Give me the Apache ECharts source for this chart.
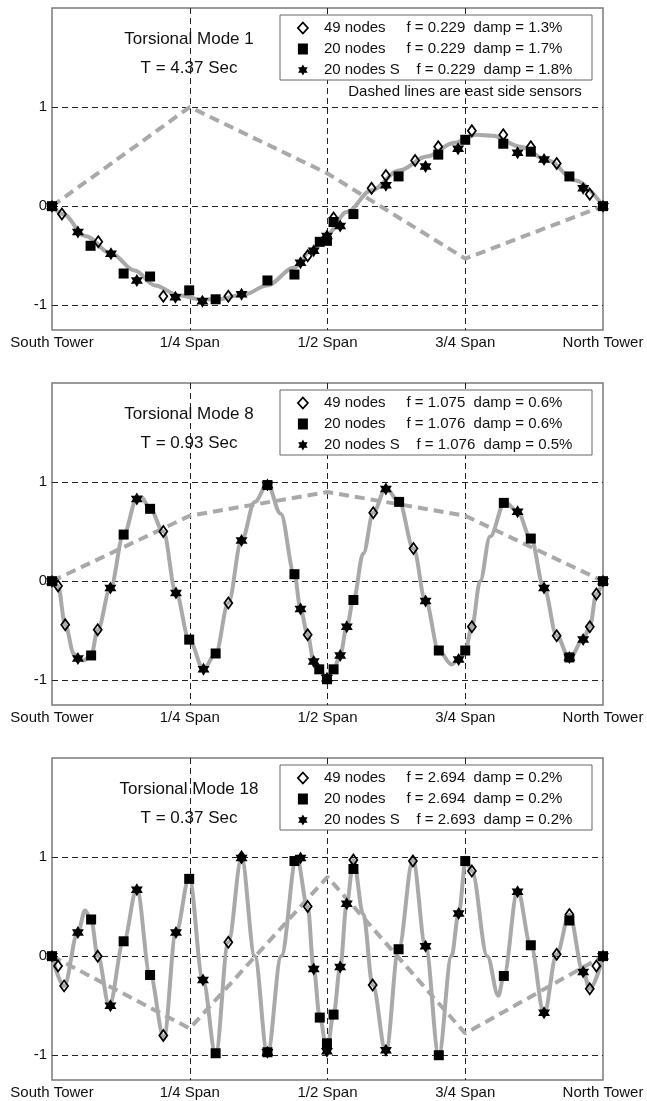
<!DOCTYPE html>
<html><head><meta charset="utf-8">
<script src="https://cdn.jsdelivr.net/npm/echarts@6/dist/echarts.min.js"></script>
<style>html,body{margin:0;padding:0;background:#fff}#c{width:647px;height:1101px}</style>
</head><body><div id="c"></div>
<script>
// ---- tick labels ----
const xTickLabels = ['South Tower', '1/4 Span', '1/2 Span', '3/4 Span', 'North Tower'];
const xTickValues = [0, 0.25, 0.5, 0.75, 1];
const xGridValues = [0.25, 0.5, 0.75];
const yTickValues = [-1, 0, 1];
const eastX = [0, 0.25, 0.5, 0.75, 1];

// ---- panel 1 : Torsional Mode 1 ----
const title1 = ['Torsional Mode 1', 'T = 4.37 Sec'];
const legend1 = ['49 nodes     f = 0.229  damp = 1.3%', '20 nodes     f = 0.229  damp = 1.7%', '20 nodes S    f = 0.229  damp = 1.8%'];
const east1 = [0, 1.0, 0.33, -0.53, 0];
const curve1 = [[0,0],[0.02,-0.08],[0.06,-0.30],[0.108,-0.48],[0.150,-0.65],[0.187,-0.80],[0.23,-0.90],[0.27,-0.94],[0.30,-0.94],[0.35,-0.89],[0.39,-0.80],[0.44,-0.62],[0.47,-0.45],[0.50,-0.28],[0.535,-0.06],[0.58,0.16],[0.63,0.36],[0.68,0.50],[0.73,0.64],[0.77,0.72],[0.80,0.71],[0.85,0.60],[0.90,0.46],[0.95,0.26],[1,0]];
const diamonds1 = [[0.018,-0.08],[0.084,-0.36],[0.202,-0.91],[0.320,-0.91],[0.464,-0.50],[0.511,-0.12],[0.580,0.18],[0.606,0.31],[0.659,0.46],[0.701,0.60],[0.762,0.76],[0.819,0.72],[0.869,0.60],[0.916,0.43],[0.976,0.12]];
const squares1 = [[0,0],[0.070,-0.40],[0.130,-0.68],[0.178,-0.71],[0.249,-0.85],[0.297,-0.94],[0.391,-0.75],[0.440,-0.69],[0.486,-0.36],[0.499,-0.35],[0.511,-0.16],[0.547,-0.08],[0.629,0.30],[0.701,0.52],[0.750,0.67],[0.819,0.63],[0.869,0.55],[0.939,0.30],[1,0]];
const stars1 = [[0,0],[0.047,-0.26],[0.107,-0.48],[0.154,-0.75],[0.224,-0.92],[0.273,-0.96],[0.344,-0.89],[0.451,-0.57],[0.475,-0.45],[0.499,-0.30],[0.523,-0.20],[0.606,0.21],[0.678,0.40],[0.737,0.58],[0.845,0.54],[0.893,0.47],[0.964,0.18],[1,0]];

// ---- panel 2 : Torsional Mode 8 ----
const title2 = ['Torsional Mode 8', 'T = 0.93 Sec'];
const legend2 = ['49 nodes     f = 1.075  damp = 0.6%', '20 nodes     f = 1.076  damp = 0.6%', '20 nodes S    f = 1.076  damp = 0.5%'];
const east2 = [0, 0.66, 0.90, 0.66, 0];
const curve2 = [[0,0],[0.011,-0.05],[0.024,-0.44],[0.040,-0.74],[0.057,-0.80],[0.071,-0.75],[0.083,-0.49],[0.106,-0.07],[0.130,0.47],[0.154,0.83],[0.162,0.85],[0.178,0.73],[0.202,0.50],[0.225,-0.12],[0.249,-0.59],[0.275,-0.89],[0.297,-0.73],[0.320,-0.22],[0.344,0.41],[0.368,0.80],[0.391,0.98],[0.415,0.68],[0.440,0.07],[0.451,-0.28],[0.464,-0.54],[0.475,-0.81],[0.485,-0.90],[0.499,-0.98],[0.511,-0.89],[0.523,-0.75],[0.535,-0.46],[0.547,-0.19],[0.565,0.28],[0.583,0.69],[0.606,0.94],[0.630,0.80],[0.656,0.33],[0.678,-0.20],[0.702,-0.70],[0.725,-0.84],[0.738,-0.79],[0.750,-0.70],[0.762,-0.46],[0.777,0.0],[0.795,0.45],[0.822,0.80],[0.845,0.70],[0.869,0.43],[0.893,-0.07],[0.916,-0.55],[0.939,-0.78],[0.964,-0.59],[0.976,-0.46],[0.988,-0.13],[1,0]];
const diamonds2 = [[0.011,-0.05],[0.024,-0.44],[0.083,-0.49],[0.202,0.50],[0.320,-0.22],[0.464,-0.54],[0.583,0.69],[0.656,0.33],[0.762,-0.46],[0.916,-0.55],[0.976,-0.46],[0.988,-0.13]];
const squares2 = [[0,0],[0.071,-0.75],[0.130,0.47],[0.178,0.73],[0.249,-0.59],[0.297,-0.73],[0.391,0.97],[0.440,0.07],[0.485,-0.89],[0.499,-0.99],[0.511,-0.89],[0.547,-0.19],[0.630,0.80],[0.702,-0.70],[0.750,-0.70],[0.820,0.79],[0.869,0.43],[0.939,-0.77],[1,0]];
const stars2 = [[0,0],[0.047,-0.78],[0.106,-0.07],[0.154,0.83],[0.225,-0.12],[0.275,-0.89],[0.344,0.41],[0.391,0.97],[0.451,-0.28],[0.475,-0.81],[0.499,-0.98],[0.523,-0.75],[0.535,-0.46],[0.606,0.93],[0.678,-0.20],[0.738,-0.79],[0.845,0.70],[0.893,-0.07],[0.939,-0.77],[0.964,-0.59],[1,0]];

// ---- panel 3 : Torsional Mode 18 ----
const title3 = ['Torsional Mode 18', 'T = 0.37 Sec'];
const legend3 = ['49 nodes     f = 2.694  damp = 0.2%', '20 nodes     f = 2.694  damp = 0.2%', '20 nodes S    f = 2.693  damp = 0.2%'];
const east3 = [0, -0.73, 0.80, -0.78, 0];
const curve3 = [[0,0],[0.022,-0.30],[0.047,0.24],[0.060,0.46],[0.071,0.37],[0.083,0.0],[0.104,-0.50],[0.130,0.15],[0.154,0.68],[0.178,-0.19],[0.203,-0.82],[0.225,0.24],[0.249,0.79],[0.274,-0.24],[0.297,-0.99],[0.320,0.14],[0.344,0.99],[0.368,0.0],[0.391,-0.99],[0.416,0.0],[0.444,1.0],[0.464,0.50],[0.475,-0.13],[0.486,-0.62],[0.499,-0.95],[0.511,-0.59],[0.523,-0.11],[0.535,0.53],[0.547,0.97],[0.565,0.42],[0.582,-0.29],[0.606,-0.97],[0.629,0.07],[0.655,0.97],[0.678,0.10],[0.702,-1.0],[0.725,0.0],[0.738,0.43],[0.751,0.97],[0.762,0.86],[0.790,0.0],[0.810,-0.40],[0.820,-0.20],[0.845,0.66],[0.869,0.11],[0.893,-0.58],[0.916,0.02],[0.939,0.42],[0.964,-0.16],[0.976,-0.33],[1,0]];
const diamonds3 = [[0.011,-0.10],[0.022,-0.30],[0.083,0.0],[0.202,-0.80],[0.320,0.14],[0.344,1.0],[0.464,0.50],[0.547,0.97],[0.582,-0.29],[0.655,0.96],[0.762,0.86],[0.916,0.02],[0.939,0.42],[0.976,-0.33],[0.988,-0.10]];
const squares3 = [[0,0],[0.071,0.37],[0.130,0.15],[0.178,-0.19],[0.249,0.78],[0.297,-0.98],[0.391,-0.97],[0.440,0.96],[0.486,-0.62],[0.499,-0.88],[0.511,-0.59],[0.547,0.88],[0.629,0.07],[0.702,-1.0],[0.750,0.96],[0.820,-0.20],[0.869,0.11],[0.939,0.36],[1,0]];
const stars3 = [[0,0],[0.047,0.24],[0.106,-0.50],[0.154,0.67],[0.225,0.24],[0.274,-0.24],[0.344,0.99],[0.391,-0.97],[0.451,0.99],[0.475,-0.13],[0.499,-0.96],[0.523,-0.11],[0.535,0.53],[0.606,-0.95],[0.678,0.10],[0.738,0.43],[0.845,0.65],[0.893,-0.57],[0.964,-0.16],[1,0]];

const note1 = 'Dashed lines are east side sensors';

// ---- build ----
const FONT = '"Liberation Sans", Arial, Helvetica, sans-serif';
const starSymbol = 'path://M50 0L64.4 25L93.3 25L78.9 50L93.3 75L64.4 75L50 100L35.6 75L6.7 75L21.1 50L6.7 25L35.6 25Z';
const GRAY = '#a9a9a9';
const panels = [
  {title: title1, legend: legend1, east: east1, curve: curve1, dia: diamonds1, sq: squares1, st: stars1},
  {title: title2, legend: legend2, east: east2, curve: curve2, dia: diamonds2, sq: squares2, st: stars2},
  {title: title3, legend: legend3, east: east3, curve: curve3, dia: diamonds3, sq: squares3, st: stars3}
];
const tops = [8, 383, 758];
const PL = 52, PW = 551, PH = 322;

const grid = [], xAxis = [], yAxis = [], series = [], legend = [], graphic = [];
const diaStyle = {color: 'rgba(255,255,255,0)', borderColor: '#000', borderWidth: 1.8, opacity: 1};
const sqStyle = {color: '#000', opacity: 1};
const stStyle = {color: '#000', opacity: 1};

panels.forEach((p, i) => {
  const top = tops[i];
  grid.push({left: PL, top: top, width: PW, height: PH, show: true, borderColor: '#7a7a7a', borderWidth: 1.5,
    containLabel: false, outerBoundsMode: 'none'});
  xAxis.push({gridIndex: i, type: 'value', min: 0, max: 1, interval: 0.25,
    axisLine: {show: false}, axisTick: {show: false, customValues: xGridValues},
    axisLabel: {customValues: xTickValues, formatter: v => xTickLabels[Math.round(v * 4)],
      fontSize: 15, color: '#111', margin: 5, fontFamily: FONT},
    splitLine: {show: true, lineStyle: {color: '#222', width: 1, type: [6, 4]}}});
  yAxis.push({gridIndex: i, type: 'value', min: -1.25, max: 2,
    axisLine: {show: false}, axisTick: {show: false, customValues: yTickValues},
    axisLabel: {customValues: yTickValues, fontSize: 15, color: '#111', margin: 5, fontFamily: FONT},
    splitLine: {show: true, lineStyle: {color: '#222', width: 1, type: [6, 4]}}});
  series.push({type: 'line', name: 'west' + i, xAxisIndex: i, yAxisIndex: i, data: p.curve,
    smooth: 0.35, smoothMonotone: 'x', symbol: 'none', silent: true,
    lineStyle: {color: GRAY, width: 4}, z: 2});
  series.push({type: 'line', name: 'east' + i, xAxisIndex: i, yAxisIndex: i,
    data: eastX.map((x, k) => [x, p.east[k]]), symbol: 'none', silent: true,
    lineStyle: {color: GRAY, width: 4, type: [10, 6]}, z: 2});
  series.push({type: 'scatter', name: p.legend[0], xAxisIndex: i, yAxisIndex: i, data: p.dia,
    symbol: 'diamond', symbolSize: [8, 11], itemStyle: diaStyle, z: 3});
  series.push({type: 'scatter', name: p.legend[1], xAxisIndex: i, yAxisIndex: i, data: p.sq,
    symbol: 'rect', symbolSize: 10, itemStyle: sqStyle, z: 4});
  series.push({type: 'scatter', name: p.legend[2], xAxisIndex: i, yAxisIndex: i, data: p.st,
    symbol: starSymbol, symbolSize: [12, 13], itemStyle: stStyle, z: 5});
  legend.push({orient: 'vertical', left: 297, top: top + 12, padding: 0, itemWidth: 10, itemHeight: 11,
    itemGap: 5, selectedMode: false, z: 10,
    textStyle: {fontSize: 15, color: '#111', lineHeight: 16, fontFamily: FONT, padding: [0, 0, 0, 11]},
    data: [
      {name: p.legend[0], icon: 'diamond', itemStyle: diaStyle},
      {name: p.legend[1], icon: 'rect', itemStyle: sqStyle},
      {name: p.legend[2], icon: starSymbol, itemStyle: stStyle}
    ]});
  graphic.push({type: 'rect', z: 8, silent: true,
    shape: {x: 280, y: top + 7, width: 312, height: 65},
    style: {fill: '#fff', stroke: '#666', lineWidth: 1}});
  graphic.push({type: 'text', z: 8, x: 189, y: top + 31,
    style: {text: p.title[0], font: '17px ' + FONT, fill: '#111', align: 'center', verticalAlign: 'middle', textAlign: 'center', textVerticalAlign: 'middle'}});
  graphic.push({type: 'text', z: 8, x: 189, y: top + 60,
    style: {text: p.title[1], font: '17px ' + FONT, fill: '#111', align: 'center', verticalAlign: 'middle', textAlign: 'center', textVerticalAlign: 'middle'}});
});
graphic.push({type: 'text', z: 8, x: 465, y: tops[0] + 84,
  style: {text: note1, font: '15px ' + FONT, fill: '#111', align: 'center', verticalAlign: 'middle', textAlign: 'center', textVerticalAlign: 'middle'}});

const chart = echarts.init(document.getElementById('c'), null, {renderer: 'canvas'});
chart.setOption({
  animation: false,
  backgroundColor: '#fff',
  textStyle: {fontFamily: FONT},
  grid, xAxis, yAxis, series, legend, graphic
});
</script>
</body></html>
